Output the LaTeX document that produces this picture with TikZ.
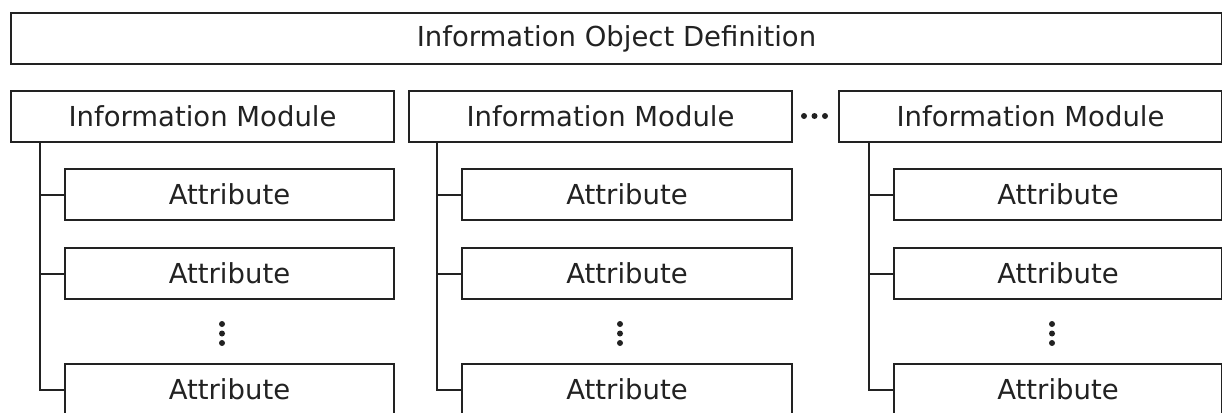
\documentclass[tikz,border=0pt]{standalone}
\usepackage{fontspec}
\setmainfont{DejaVu Sans}
\definecolor{ink}{HTML}{222222}
\tikzset{
  x=1pt, y=-1pt,
  box/.style={draw=ink, line width=2pt, inner sep=0pt, text=ink,
    font=\fontsize{27.5}{33}\selectfont, anchor=north west},
  link/.style={draw=ink, line width=2pt},
  dot/.style={fill=ink, circle, inner sep=0pt, minimum size=6pt},
}
\begin{document}
\begin{tikzpicture}
\useasboundingbox (0,0) rectangle (1222,412);
\clip (0,0) rectangle (1222,412);

% definition header
\node[box, minimum width=1211pt, minimum height=51pt] (iod) at (10,12) {Information Object Definition};

% modules
\node[box, minimum width=383pt, minimum height=51pt] (m1) at (10,90)  {Information Module};
\node[box, minimum width=383pt, minimum height=51pt] (m2) at (408,90) {Information Module};
\node[box, minimum width=383pt, minimum height=51pt] (m3) at (838,90) {Information Module};

% spine positions
\coordinate (s1) at (40,0);
\coordinate (s2) at (437,0);
\coordinate (s3) at (869,0);

% attributes, column 1
\node[box, minimum width=329pt, minimum height=51pt] (a11) at (64,168) {Attribute};
\node[box, minimum width=329pt, minimum height=51pt] (a12) at (64,247) {Attribute};
\node[box, minimum width=329pt, minimum height=51pt] (a13) at (64,363) {Attribute};
% attributes, column 2
\node[box, minimum width=330pt, minimum height=51pt] (a21) at (461,168) {Attribute};
\node[box, minimum width=330pt, minimum height=51pt] (a22) at (461,247) {Attribute};
\node[box, minimum width=330pt, minimum height=51pt] (a23) at (461,363) {Attribute};
% attributes, column 3
\node[box, minimum width=328pt, minimum height=51pt] (a31) at (893,168) {Attribute};
\node[box, minimum width=328pt, minimum height=51pt] (a32) at (893,247) {Attribute};
\node[box, minimum width=328pt, minimum height=51pt] (a33) at (893,363) {Attribute};

% tree connectors
\foreach \c in {1,2,3}{
  \draw[link] (s\c |- m\c.south) |- (a\c3.west);
  \draw[link] (s\c |- a\c1.west) -- (a\c1.west);
  \draw[link] (s\c |- a\c2.west) -- (a\c2.west);
}

% vertical ellipses between attributes
\foreach \c/\xx in {1/222,2/620,3/1052}{
  \node[dot] (v\c a) at (\xx,324) {};
  \node[dot] (v\c b) at (\xx,333.5) {};
  \node[dot] (v\c c) at (\xx,343) {};
}

% horizontal ellipsis between modules
\node[dot] (h1) at (804,116) {};
\node[dot] (h2) at (814.5,116) {};
\node[dot] (h3) at (825,116) {};
\end{tikzpicture}
\end{document}
